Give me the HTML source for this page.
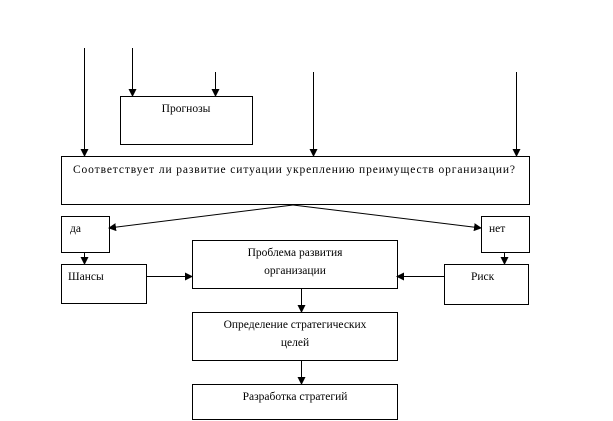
<!DOCTYPE html>
<html><head><meta charset="utf-8"><style>
html,body{margin:0;padding:0;background:#fff;}
svg{display:block;}
text{font-family:"Liberation Serif","DejaVu Serif",serif;font-size:11.5px;fill:#000;}
</style></head><body>
<svg width="613" height="421" viewBox="0 0 613 421" xmlns="http://www.w3.org/2000/svg">
<defs><marker id="a" markerWidth="8" markerHeight="8" refX="7" refY="4" orient="auto" markerUnits="userSpaceOnUse"><path d="M0,0 L8,4 L0,8 z" fill="#000"/></marker></defs>
<g stroke="#000" stroke-width="1" fill="none">
<rect x="120.5" y="96.5" width="132" height="48"/>
<rect x="61.5" y="156.5" width="468" height="48"/>
<rect x="61.5" y="216.5" width="48" height="36"/>
<rect x="481.5" y="216.5" width="48" height="36"/>
<rect x="61.5" y="264.5" width="85" height="39"/>
<rect x="444.5" y="264.5" width="84" height="40"/>
<rect x="192.5" y="240.5" width="205" height="48"/>
<rect x="192.5" y="312.5" width="205" height="48"/>
<rect x="192.5" y="384.5" width="205" height="35"/>
<line x1="84.5" y1="48" x2="84.5" y2="156" marker-end="url(#a)"/>
<line x1="132.5" y1="48" x2="132.5" y2="96" marker-end="url(#a)"/>
<line x1="215.5" y1="72" x2="215.5" y2="96" marker-end="url(#a)"/>
<line x1="313.5" y1="72" x2="313.5" y2="156" marker-end="url(#a)"/>
<line x1="516.5" y1="72" x2="516.5" y2="156" marker-end="url(#a)"/>
<line x1="293" y1="205" x2="109" y2="228" marker-end="url(#a)"/>
<line x1="293" y1="205" x2="481" y2="228" marker-end="url(#a)"/>
<line x1="84.5" y1="253" x2="84.5" y2="264" marker-end="url(#a)"/>
<line x1="504.5" y1="253" x2="504.5" y2="264" marker-end="url(#a)"/>
<line x1="147" y1="276.5" x2="192" y2="276.5" marker-end="url(#a)"/>
<line x1="444" y1="276.5" x2="397" y2="276.5" marker-end="url(#a)"/>
<line x1="301.5" y1="289" x2="301.5" y2="312" marker-end="url(#a)"/>
<line x1="301.5" y1="361" x2="301.5" y2="384" marker-end="url(#a)"/>
</g>
<text x="186" y="112" text-anchor="middle">Прогнозы</text>
<text x="73" y="173" textLength="442">Соответствует ли развитие ситуации укреплению преимуществ организации?</text>
<text x="70" y="232">да</text>
<text x="489" y="232">нет</text>
<text x="68" y="280">Шансы</text>
<text x="471" y="280">Риск</text>
<text x="295" y="256" text-anchor="middle">Проблема развития</text>
<text x="295" y="274" text-anchor="middle">организации</text>
<text x="295" y="328" text-anchor="middle">Определение стратегических</text>
<text x="295" y="346" text-anchor="middle">целей</text>
<text x="295" y="400" text-anchor="middle">Разработка стратегий</text>
</svg>
</body></html>
